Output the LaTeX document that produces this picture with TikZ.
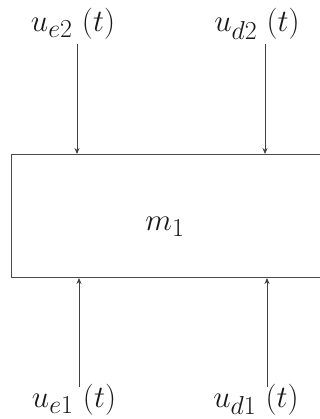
\documentclass[tikz,border=0pt]{standalone}
\usepackage{graphicx}
\usetikzlibrary{arrows.meta}
\newcommand{\biglab}[1]{\scalebox{1.25}{\fontsize{24.88}{30}\selectfont $#1$}}
\begin{document}
\begin{tikzpicture}[x=1pt,y=-1pt,
  lab/.style={inner sep=0pt,anchor=base,text=black!90},
  arr/.style={draw=black!75,line width=0.8pt,-{Stealth[length=6pt,width=5pt]}},
  boxst/.style={draw=black!70,line width=1pt,rectangle,inner sep=0pt,minimum width=320pt,minimum height=123pt,anchor=north west}]
\useasboundingbox (0,0) rectangle (320,419);
\clip (0,0) rectangle (320,419);
\fill[white] (0,0) rectangle (320,419);
\node[boxst] (box) at (11,154) {};
\node[lab] (m) at (165,230) {\biglab{m_1}};
\node[lab] (ue2) at (73,32) {\biglab{u_{e2}\ (t)}};
\node[lab] (ud2) at (257,32) {\biglab{u_{d2}\ (t)}};
\node[lab] (ue1) at (74,407) {\biglab{u_{e1}\ (t)}};
\node[lab] (ud1) at (256,407) {\biglab{u_{d1}\ (t)}};
\coordinate (t1) at (77,44);
\coordinate (t2) at (265,44);
\coordinate (b1) at (79,387);
\coordinate (b2) at (267,387);
\draw[arr] (t1) -- (t1 |- box.north);
\draw[arr] (t2) -- (t2 |- box.north);
\draw[arr] (b1) -- (b1 |- box.south);
\draw[arr] (b2) -- (b2 |- box.south);
\end{tikzpicture}
\end{document}
